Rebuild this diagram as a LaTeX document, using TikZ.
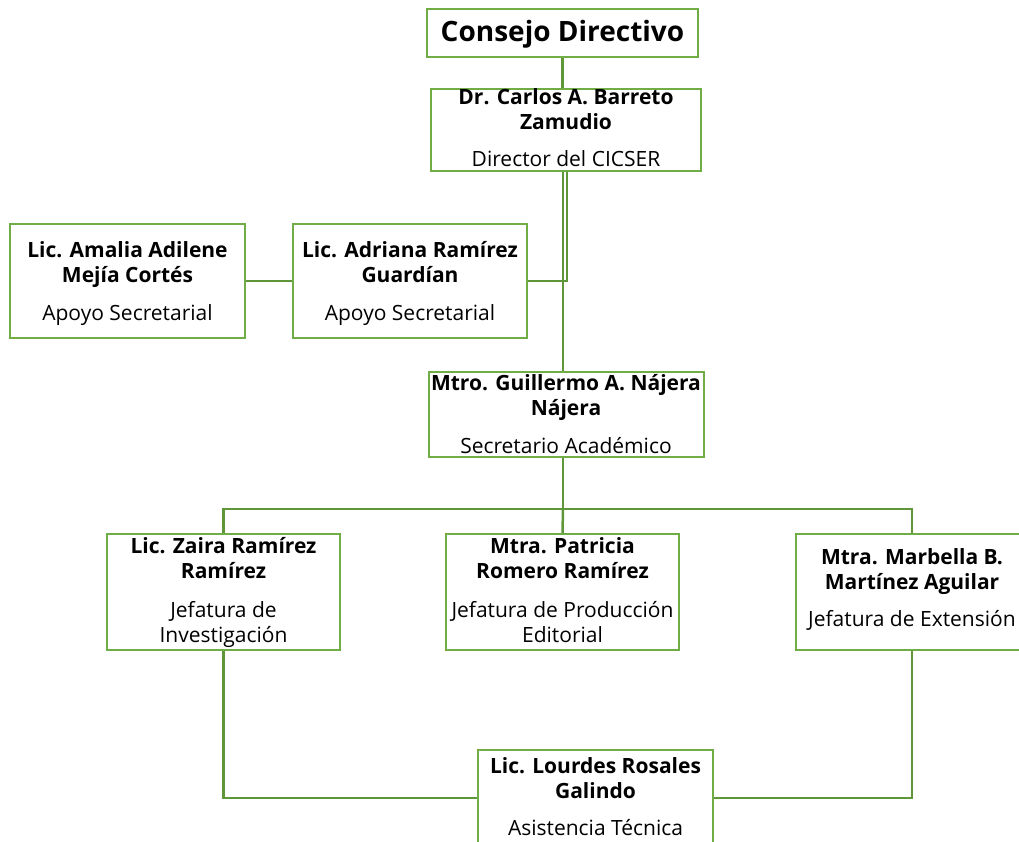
\documentclass[tikz,border=0pt]{standalone}
\usepackage{fontspec}
\setmainfont{Open Sans}
\definecolor{boxgreen}{HTML}{70AD47}
\definecolor{linegreen}{HTML}{5E9639}
\begin{document}
\begin{tikzpicture}[x=1pt,y=-1pt,
  orgbox/.style={draw=boxgreen, line width=2pt, fill=none, inner sep=0pt, rectangle},
  txt/.style={align=center, inner sep=0pt, font=\fontsize{21}{25}\selectfont, anchor=base},
  conn/.style={draw=linegreen, line width=2.5pt}]
\useasboundingbox (0,0) rectangle (1019,842);
\clip (0,0) rectangle (1019,842);
% boxes
\node[orgbox, minimum width=271pt, minimum height=48pt] (consejo) at (562.5,33) {};
\node[orgbox, minimum width=270pt, minimum height=82pt] (director) at (566,130) {};
\node[orgbox, minimum width=235pt, minimum height=114pt] (amalia) at (127.5,281) {};
\node[orgbox, minimum width=234pt, minimum height=114pt] (adriana) at (410,281) {};
\node[orgbox, minimum width=275pt, minimum height=85pt] (guillermo) at (566,414.5) {};
\node[orgbox, minimum width=233pt, minimum height=116pt] (zaira) at (223.5,592) {};
\node[orgbox, minimum width=233pt, minimum height=116pt] (patricia) at (562.5,592) {};
\node[orgbox, minimum width=232pt, minimum height=116pt] (marbella) at (912,592) {};
\node[orgbox, minimum width=235pt, minimum height=96pt] (lourdes) at (595.5,798) {};
% texts (anchor base = baseline of the last line)
\node[txt, font=\fontsize{28}{32}\selectfont\bfseries] (consejoT) at (562.5,42) {Consejo Directivo};
\node[txt] (directorT) at (566,167) {\textbf{Dr. Carlos A. Barreto}\\\textbf{Zamudio}\\[12pt]Director del CICSER};
\node[txt] (amaliaT) at (127.5,320) {\textbf{Lic. Amalia Adilene}\\\textbf{Mejía Cortés}\\[13pt]Apoyo Secretarial};
\node[txt] (adrianaT) at (410,320) {\textbf{Lic. Adriana Ramírez}\\\textbf{Guardían}\\[13pt]Apoyo Secretarial};
\node[txt] (guillermoT) at (566,453) {\textbf{Mtro. Guillermo A. Nájera}\\\textbf{Nájera}\\[13pt]Secretario Académico};
\node[txt] (zairaT) at (223.5,642) {\textbf{Lic. Zaira Ramírez}\\\textbf{Ramírez}\\[14pt]Jefatura de\\Investigación};
\node[txt] (patriciaT) at (562.5,642) {\textbf{Mtra. Patricia}\\\textbf{Romero Ramírez}\\[14pt]Jefatura de Producción\\Editorial};
\node[txt] (marbellaT) at (912,626) {\textbf{Mtra. Marbella B.}\\\textbf{Martínez Aguilar}\\[12pt]Jefatura de Extensión};
\node[txt] (lourdesT) at (595.5,835) {\textbf{Lic. Lourdes Rosales}\\\textbf{Galindo}\\[12pt]Asistencia Técnica};
% connectors
\coordinate (bus) at (563,509);
\draw[conn] (consejo.south) -- (consejo.south |- director.north);
\draw[conn] ([xshift=-3pt]director.south) -- ([xshift=-3pt]guillermo.north);
\draw[conn] ([xshift=1pt]director.south) |- (adriana.east);
\draw[conn] (amalia.east) -- (adriana.west);
\draw[conn] ([xshift=-3pt]guillermo.south) -- (bus);
\draw[conn] (bus) -| (zaira.north);
\draw[conn] (bus) -| (marbella.north);
\draw[conn] (bus) -- (patricia.north);
\draw[conn] (zaira.south) |- (lourdes.west);
\draw[conn] (marbella.south) |- (lourdes.east);
\end{tikzpicture}
\end{document}
